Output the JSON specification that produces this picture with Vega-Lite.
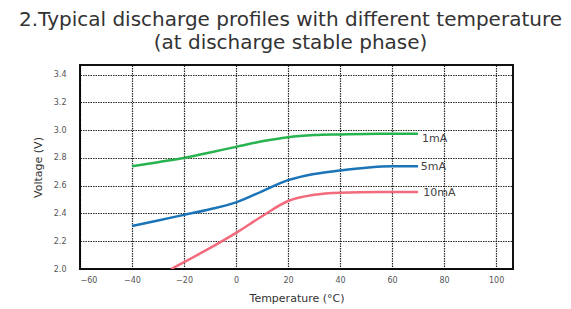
{
  "$schema": "https://vega.github.io/schema/vega-lite/v6.json",
  "width": 433,
  "height": 204,
  "autosize": "none",
  "padding": {"left": 80, "top": 65, "right": 58, "bottom": 40},
  "background": "white",
  "title": {
    "text": ["2.Typical discharge profiles with different temperature", "(at discharge stable phase)"],
    "font": "DejaVu Sans",
    "fontSize": 20,
    "fontWeight": "normal",
    "color": "#333333",
    "lineHeight": 23,
    "offset": 12,
    "anchor": "middle",
    "dx": -6
  },
  "config": {
    "view": {"stroke": "#111111", "strokeWidth": 2},
    "axis": {
      "labelFont": "DejaVu Sans",
      "titleFont": "DejaVu Sans",
      "labelColor": "#555555",
      "titleColor": "#333333",
      "labelFontSize": 8,
      "titleFontSize": 11,
      "titleFontWeight": "normal",
      "labelOverlap": false,
      "ticks": false,
      "domain": false,
      "grid": true,
      "gridColor": "#000000",
      "gridDash": [1.5, 1],
      "gridWidth": 1.2,
      "gridOpacity": 0.85
    }
  },
  "datasets": {
    "curves": [
      {"series": "1mA", "T": -40, "V": 2.74},
      {"series": "1mA", "T": -30, "V": 2.77},
      {"series": "1mA", "T": -20, "V": 2.80},
      {"series": "1mA", "T": -10, "V": 2.84},
      {"series": "1mA", "T": 0, "V": 2.88},
      {"series": "1mA", "T": 10, "V": 2.92},
      {"series": "1mA", "T": 20, "V": 2.95},
      {"series": "1mA", "T": 30, "V": 2.965},
      {"series": "1mA", "T": 40, "V": 2.97},
      {"series": "1mA", "T": 55, "V": 2.975},
      {"series": "1mA", "T": 70, "V": 2.975},
      {"series": "5mA", "T": -40, "V": 2.31},
      {"series": "5mA", "T": -30, "V": 2.35},
      {"series": "5mA", "T": -20, "V": 2.39},
      {"series": "5mA", "T": -10, "V": 2.43},
      {"series": "5mA", "T": 0, "V": 2.48},
      {"series": "5mA", "T": 10, "V": 2.56},
      {"series": "5mA", "T": 20, "V": 2.64},
      {"series": "5mA", "T": 30, "V": 2.685},
      {"series": "5mA", "T": 40, "V": 2.71},
      {"series": "5mA", "T": 50, "V": 2.73},
      {"series": "5mA", "T": 60, "V": 2.74},
      {"series": "5mA", "T": 70, "V": 2.74},
      {"series": "10mA", "T": -25, "V": 2.0},
      {"series": "10mA", "T": -12, "V": 2.13},
      {"series": "10mA", "T": 0, "V": 2.26},
      {"series": "10mA", "T": 10, "V": 2.38},
      {"series": "10mA", "T": 20, "V": 2.49},
      {"series": "10mA", "T": 30, "V": 2.535},
      {"series": "10mA", "T": 40, "V": 2.55},
      {"series": "10mA", "T": 55, "V": 2.555},
      {"series": "10mA", "T": 70, "V": 2.555}
    ],
    "labels": [
      {"series": "1mA", "T": 71.5, "V": 2.935},
      {"series": "5mA", "T": 71, "V": 2.735},
      {"series": "10mA", "T": 72, "V": 2.55}
    ]
  },
  "encoding": {
    "x": {
      "field": "T", "type": "quantitative",
      "scale": {"domain": [-60, 106.5], "nice": false, "zero": false},
      "axis": {"values": [-60, -40, -20, 0, 20, 40, 60, 80, 100], "title": "Temperature (°C)", "labelPadding": 7, "titlePadding": 8}
    },
    "y": {
      "field": "V", "type": "quantitative",
      "scale": {"domain": [2.0, 3.47], "nice": false, "zero": false},
      "axis": {"values": [2.0, 2.2, 2.4, 2.6, 2.8, 3.0, 3.2, 3.4], "format": ".1f", "title": "Voltage (V)", "labelPadding": 14, "titlePadding": 10}
    }
  },
  "layer": [
    {
      "data": {"name": "curves"},
      "mark": {"type": "line", "strokeWidth": 2.5, "interpolate": "monotone", "clip": true},
      "encoding": {
        "color": {
          "field": "series", "type": "nominal",
          "scale": {"domain": ["1mA", "5mA", "10mA"], "range": ["#27b34f", "#1b74b8", "#f26b7c"]},
          "legend": null
        },
        "detail": {"field": "series"}
      }
    },
    {
      "data": {"name": "labels"},
      "mark": {"type": "text", "align": "left", "baseline": "middle", "font": "DejaVu Sans", "fontSize": 11, "color": "#444444"},
      "encoding": {
        "text": {"field": "series"}
      }
    }
  ]
}
